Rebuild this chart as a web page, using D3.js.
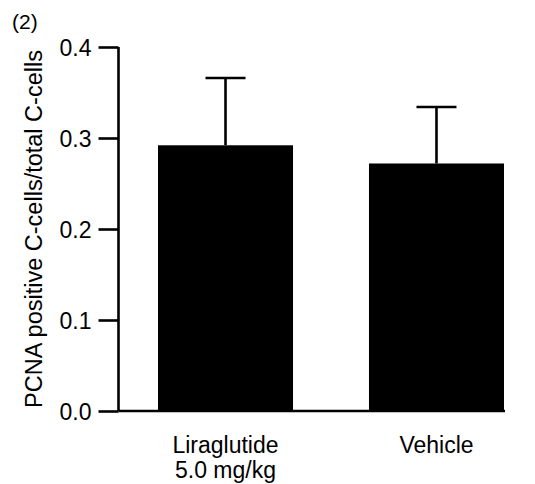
<!DOCTYPE html>
<html>
<head>
<meta charset="utf-8">
<script src="https://cdn.jsdelivr.net/npm/d3@7"></script>
<style>
  html, body { margin: 0; padding: 0; background: #fff; }
  svg { display: block; font-family: "Liberation Sans", Arial, Helvetica, sans-serif; }
</style>
</head>
<body>
<svg id="chart" width="535" height="484"></svg>
<script>
// Group labels (multi-line), mean ratio and SD per group
const groups = ["Liraglutide\n5.0 mg/kg", "Vehicle"];
const means = [0.292, 0.272];
const errors = [0.074, 0.062];
const yTicks = [0.0, 0.1, 0.2, 0.3, 0.4];
const yTitle = "PCNA positive C-cells/total C-cells";
const panelLabel = "(2)";

const FONT = 23;
const svg = d3.select("#chart");
const margin = { left: 118.5, right: 31, top: 47, bottom: 73 };
const W = 535, H = 484;

const y = d3.scaleLinear().domain([0, 0.4]).range([H - margin.bottom, margin.top]);
const x = d3.scaleBand().domain(groups)
  .range([158, 504]).paddingInner(0.36).paddingOuter(0);

const data = groups.map((g, i) => ({ g, m: means[i], e: errors[i] }));

// bars
svg.append("g").selectAll("rect").data(data).join("rect")
  .attr("x", d => x(d.g))
  .attr("width", x.bandwidth())
  .attr("y", d => y(d.m))
  .attr("height", d => y(0) - y(d.m))
  .attr("fill", "#000");

// upper error bars
const eb = svg.append("g").attr("stroke", "#000").attr("stroke-width", 2.6);
eb.selectAll("line.v").data(data).join("line").attr("class", "v")
  .attr("x1", d => x(d.g) + x.bandwidth() / 2)
  .attr("x2", d => x(d.g) + x.bandwidth() / 2)
  .attr("y1", d => y(d.m))
  .attr("y2", d => y(d.m + d.e));
eb.selectAll("line.c").data(data).join("line").attr("class", "c")
  .attr("x1", d => x(d.g) + x.bandwidth() / 2 - 20)
  .attr("x2", d => x(d.g) + x.bandwidth() / 2 + 20)
  .attr("y1", d => y(d.m + d.e))
  .attr("y2", d => y(d.m + d.e));

// y axis
const yAxis = d3.axisLeft(y).tickValues(yTicks).tickFormat(d3.format(".1f"))
  .tickSize(20).tickPadding(7);
const gy = svg.append("g").attr("transform", `translate(${margin.left},0)`).call(yAxis);
gy.attr("font-size", FONT).attr("font-family", null);
gy.select(".domain").attr("d", `M-0,${y(0.4)}V${y(0)}`).attr("stroke-width", 2.6);
gy.selectAll(".tick line").attr("stroke-width", 2.6);
gy.selectAll(".tick text").attr("fill", "#000").attr("dy", "0.35em");

// x baseline
svg.append("line")
  .attr("x1", margin.left).attr("x2", 505)
  .attr("y1", y(0)).attr("y2", y(0))
  .attr("stroke", "#000").attr("stroke-width", 2.6);

// group labels
const gl = svg.append("g").attr("font-size", FONT).attr("text-anchor", "middle");
data.forEach(d => {
  const cx = x(d.g) + x.bandwidth() / 2;
  const t = gl.append("text").attr("y", 452.5);
  d.g.split("\n").forEach((line, i) => {
    t.append("tspan").attr("x", cx).attr("dy", i === 0 ? 0 : 25).text(line);
  });
});

// y title
svg.append("text")
  .attr("transform", `translate(42,${(y(0) + y(0.4)) / 2}) rotate(-90)`)
  .attr("text-anchor", "middle").attr("font-size", 23.5).text(yTitle);

// panel label
svg.append("text").attr("x", 12).attr("y", 29).attr("font-size", 21).text(panelLabel);
</script>
</body>
</html>
